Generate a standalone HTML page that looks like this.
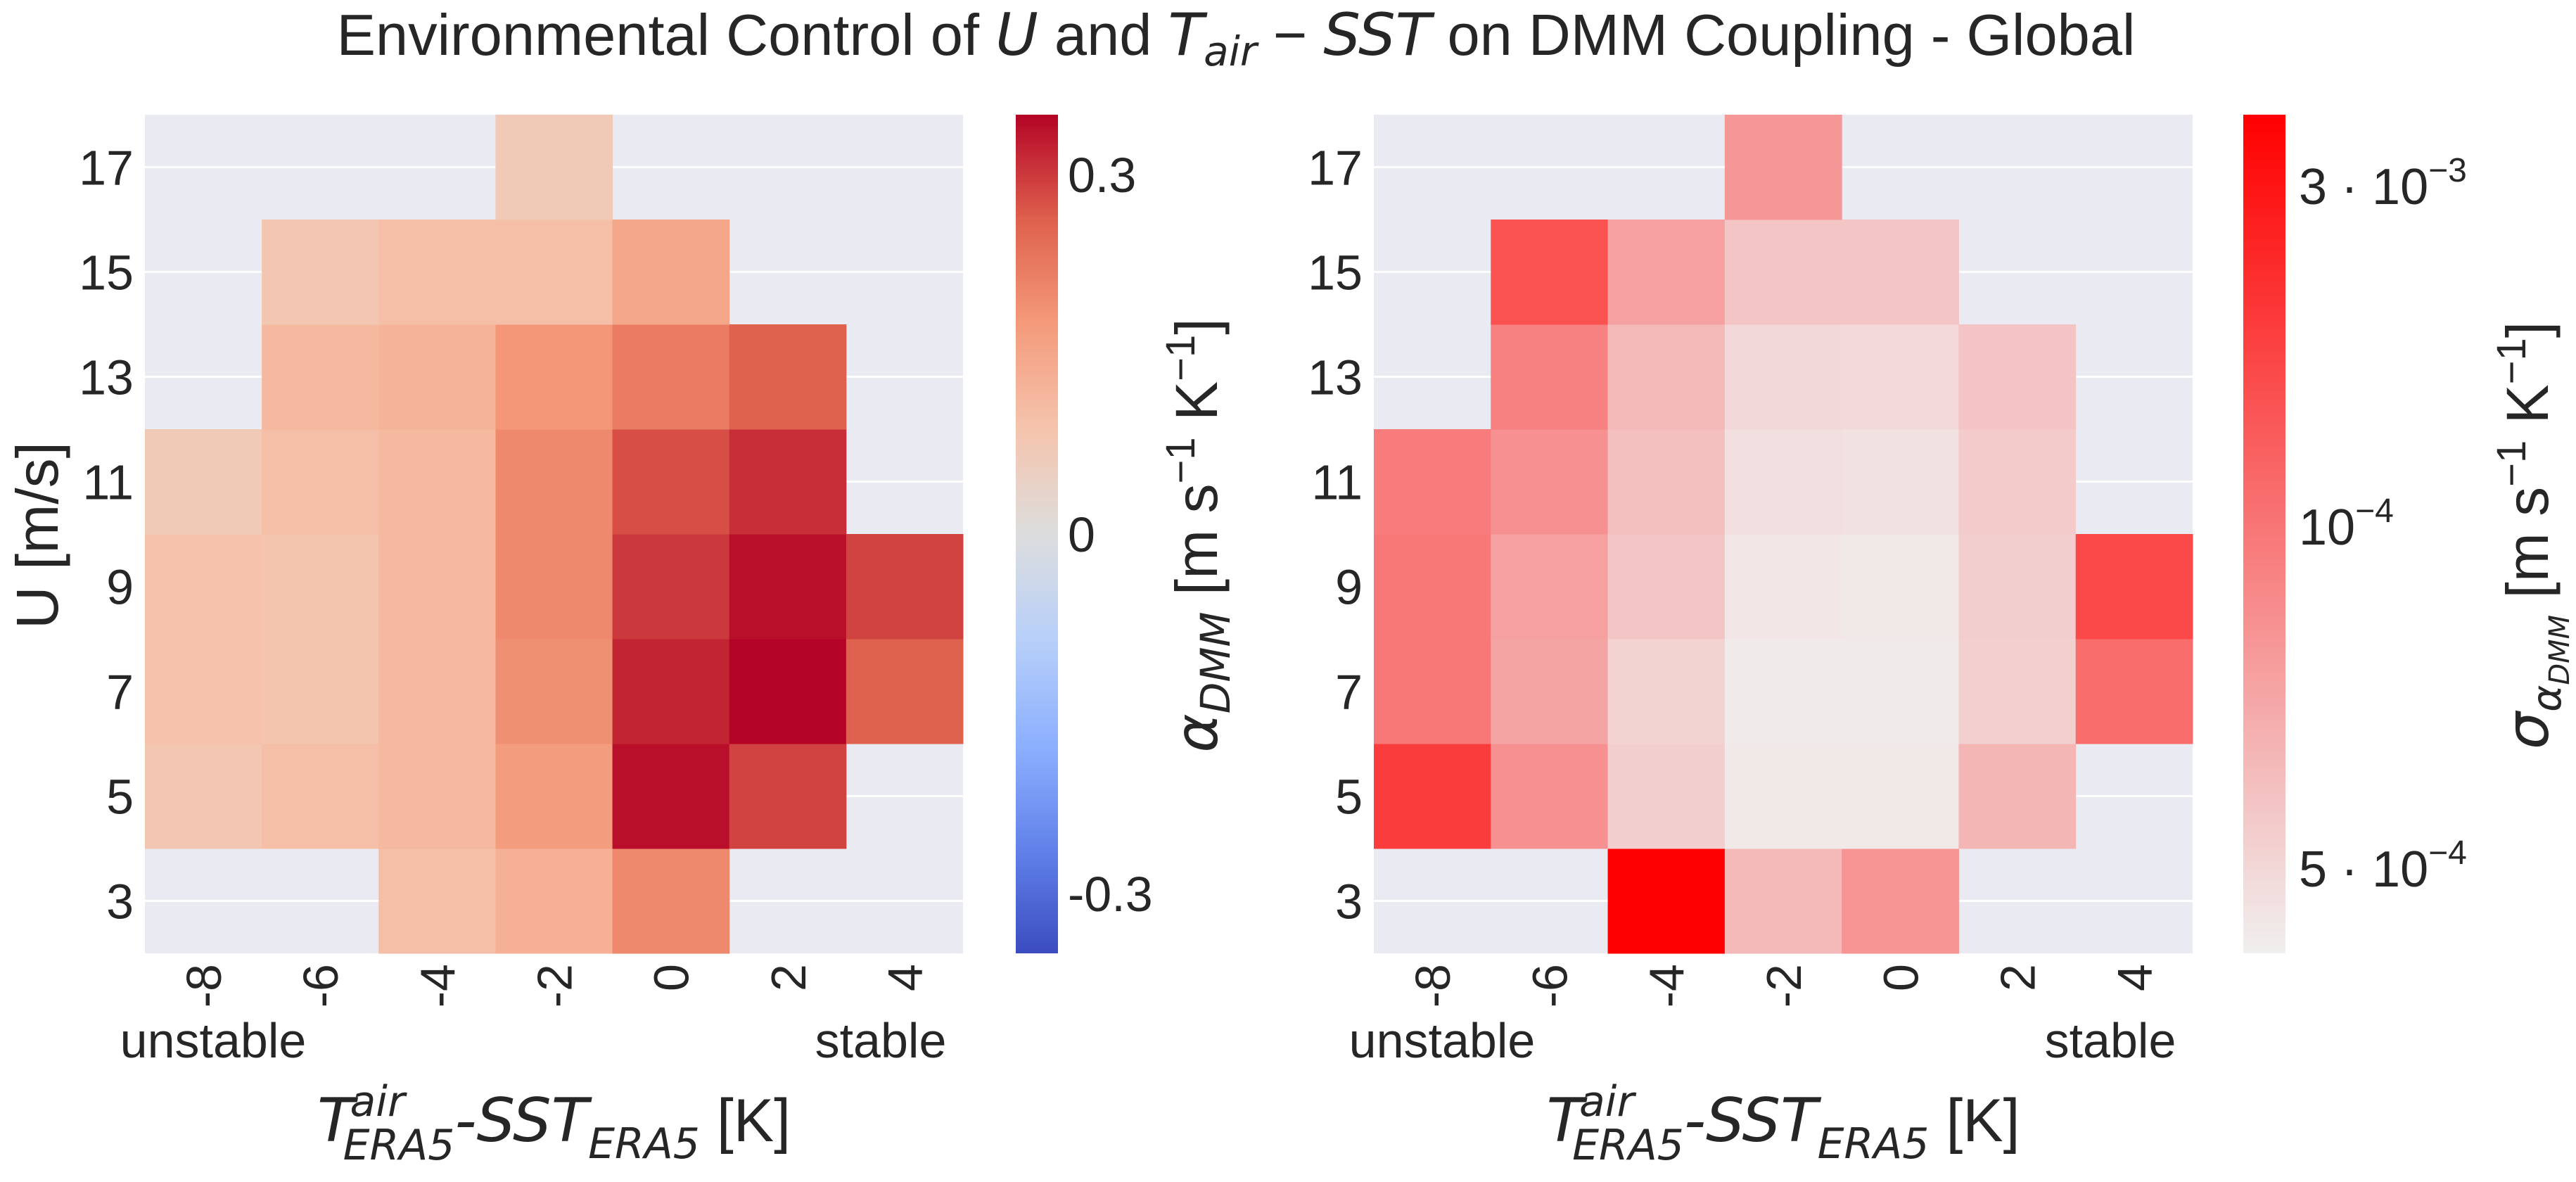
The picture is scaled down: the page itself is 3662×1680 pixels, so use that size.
<!DOCTYPE html>
<html><head><meta charset="utf-8"><style>
html,body{margin:0;padding:0;background:#fff;}
svg{display:block;}
text{fill:#262626;font-family:"Liberation Sans",sans-serif;}
.m{font-family:"DejaVu Sans",sans-serif;font-style:italic;}
</style></head><body>
<svg id="fig" width="3662" height="1680" viewBox="0 0 3662 1680" xmlns="http://www.w3.org/2000/svg">
<defs id="defs"></defs>
<text x="1757" y="78" font-size="83" text-anchor="middle">Environmental Control of <tspan class="m">U</tspan> and <tspan class="m">T</tspan><tspan class="m" font-size="58" dy="15">air</tspan><tspan dy="-15"> − </tspan><tspan class="m">SST</tspan> on DMM Coupling - Global</text>
<g id="left"></g>
<g id="right"></g>
</svg>
<script>
const xCats = [-8, -6, -4, -2, 0, 2, 4];
const yCats = [3, 5, 7, 9, 11, 13, 15, 17];
// alpha_DMM, rows by U (3..17), cols by Tair-SST (-8..4)
const alphaU3  = [null, null, 0.10, 0.13, 0.20, null, null];
const alphaU5  = [0.08, 0.10, 0.11, 0.17, 0.34, 0.29, null];
const alphaU7  = [0.09, 0.085, 0.11, 0.19, 0.32, 0.35, 0.26];
const alphaU9  = [0.09, 0.085, 0.11, 0.20, 0.30, 0.34, 0.29];
const alphaU11 = [0.07, 0.10, 0.11, 0.20, 0.28, 0.31, null];
const alphaU13 = [null, 0.11, 0.12, 0.18, 0.22, 0.26, null];
const alphaU15 = [null, 0.08, 0.10, 0.10, 0.15, null, null];
const alphaU17 = [null, null, null, 0.07, null, null, null];
// sigma of alpha_DMM (units 1e-4)
const sigmaU3  = [null, null, 36, 6.5, 9.2, null, null];
const sigmaU5  = [20.7, 9.6, 5.4, 4.25, 4.25, 6.8, null];
const sigmaU7  = [12.0, 8.0, 5.2, 4.16, 4.16, 5.3, 13.4];
const sigmaU9  = [12.0, 8.2, 5.9, 4.34, 4.25, 5.4, 18.6];
const sigmaU11 = [11.5, 9.6, 6.2, 4.63, 4.53, 5.55, null];
const sigmaU13 = [null, 11.0, 6.5, 4.94, 4.83, 6.0, null];
const sigmaU15 = [null, 17.1, 8.2, 5.9, 5.9, null, null];
const sigmaU17 = [null, null, null, 9.0, null, null, null];
const alphaTicks = [0.3, 0, -0.3];
const alphaTickLabels = ["0.3", "0", "-0.3"];
const alphaRows = [alphaU3, alphaU5, alphaU7, alphaU9, alphaU11, alphaU13, alphaU15, alphaU17];
const sigmaRows = [sigmaU3, sigmaU5, sigmaU7, sigmaU9, sigmaU11, sigmaU13, sigmaU15, sigmaU17];

const NS = "http://www.w3.org/2000/svg";
function mk(tag, attrs, parent) {
  const e = document.createElementNS(NS, tag);
  for (const k in attrs) e.setAttribute(k, attrs[k]);
  parent.appendChild(e);
  return e;
}
const cw = [[59,76,192],[98,130,234],[141,176,254],[184,208,249],[221,221,221],[245,196,173],[244,154,123],[222,96,77],[180,4,38]];
function coolwarm(t) {
  t = Math.max(0, Math.min(1, t)); const p = t * 8; const i = Math.min(7, Math.floor(p)); const f = p - i;
  const c = cw[i].map((v, k) => Math.round(v + (cw[i + 1][k] - v) * f));
  return `rgb(${c[0]},${c[1]},${c[2]})`;
}
function reds(t) {
  t = Math.max(0, Math.min(1, t));
  const a = [241,239,239], b = [255,0,0];
  const c = a.map((v, k) => Math.round(v + (b[k] - v) * t));
  return `rgb(${c[0]},${c[1]},${c[2]})`;
}
const AMAX = 0.35;
const SMIN = 3.99, SMAX = 36.1;
const alphaNorm = v => (v + AMAX) / (2 * AMAX);
const sigmaNorm = v => Math.log(v / SMIN) / Math.log(SMAX / SMIN);

const yTop = 163, yBot = 1355;
function panel(g, x0, x1, rows, colorFn, norm, name) {
  const cwid = (x1 - x0) / xCats.length, rh = (yBot - yTop) / yCats.length;
  const xS = i => x0 + i * cwid, yS = j => yBot - (j + 1) * rh;
  const bg = mk("rect", {x: x0, y: yTop, width: x1 - x0, height: yBot - yTop, fill: "#eaeaf2"}, g);
  
  
  yCats.forEach((u, j) => {
    const yc = yS(j) + rh / 2;
    const gl = mk("line", {x1: x0, x2: x1, y1: yc, y2: yc, stroke: "#fff", "stroke-width": 3}, g);
    
    
    const t = mk("text", {x: x0 - 16, y: yc + 25, "font-size": 70, "text-anchor": "end"}, g);
    t.textContent = u;
    
    
  });
  rows.forEach((row, j) => row.forEach((v, i) => {
    if (v === null) return;
    const r = mk("rect", {x: xS(i), y: yS(j), width: cwid + 0.5, height: rh + 0.5, fill: colorFn(norm(v))}, g);
    
    
  }));
  xCats.forEach((c, i) => {
    const xc = xS(i) + cwid / 2;
    const t = mk("text", {x: 0, y: 0, "font-size": 70, "text-anchor": "end", transform: `translate(${xc + 25},1370) rotate(-90)`}, g);
    t.textContent = c;
    
    
  });
  const un = mk("text", {x: x0 + 97, y: 1503, "font-size": 70, "text-anchor": "middle"}, g);
  un.textContent = "unstable";
  
  
  const st = mk("text", {x: x1 - 117, y: 1503, "font-size": 70, "text-anchor": "middle"}, g);
  st.textContent = "stable";
  
  
  const xl = mk("text", {x: (x0 + x1) / 2, y: 1622, "font-size": 86, "text-anchor": "middle"}, g);
  xl.innerHTML = '<tspan class="m">T</tspan><tspan class="m" font-size="60" dy="-36" dx="-6">air</tspan><tspan class="m" font-size="60" dx="-88" dy="62">ERA5</tspan><tspan class="m" dy="-26">-SST</tspan><tspan class="m" font-size="60" dy="24">ERA5</tspan><tspan dy="-24"> [K]</tspan>';
  
  
}
function colorbar(g, x0, x1, colorFn, id, name) {
  const defs = document.getElementById("defs");
  const lg = mk("linearGradient", {id: id, x1: 0, y1: 1, x2: 0, y2: 0}, defs);
  for (let k = 0; k <= 32; k++) mk("stop", {offset: k / 32, "stop-color": colorFn(k / 32)}, lg);
  const r = mk("rect", {x: x0, y: yTop, width: x1 - x0, height: yBot - yTop, fill: `url(#${id})`}, g);
  
  
}
const L = document.getElementById("left"), R = document.getElementById("right");
panel(L, 206, 1369, alphaRows, coolwarm, alphaNorm, "alpha");
panel(R, 1953, 3117, sigmaRows, reds, sigmaNorm, "sigma");
colorbar(L, 1444, 1504, coolwarm, "gcw", "alpha-colorbar");
colorbar(R, 3189, 3249, reds, "grd", "sigma-colorbar");
const aY = v => yBot - alphaNorm(v) * (yBot - yTop);
alphaTicks.forEach((v, k) => {
  const t = mk("text", {x: 1518, y: aY(v) + 25, "font-size": 70}, L);
  t.textContent = alphaTickLabels[k];
  
  
});
const sLabels = ['3 · 10<tspan font-size="48" dy="-32">−3</tspan>', '10<tspan font-size="48" dy="-32">−4</tspan>', '5 · 10<tspan font-size="48" dy="-32">−4</tspan>'];
const sYpos = [263, 747, 1233];
sLabels.forEach((lab, k) => {
  const t = mk("text", {x: 3268, y: sYpos[k] + 27, "font-size": 72, "font-family": "DejaVu Sans, sans-serif"}, R);
  t.innerHTML = lab;
  
  
});
const yl = mk("text", {x: 0, y: 0, "font-size": 84, "text-anchor": "middle", transform: "translate(82,761) rotate(-90)"}, L);
yl.textContent = "U [m/s]";


const c1 = mk("text", {x: 0, y: 0, "font-size": 84, "text-anchor": "middle", transform: "translate(1730,761) rotate(-90)"}, L);
c1.innerHTML = '<tspan class="m">α</tspan><tspan class="m" font-size="58" dy="18">DMM</tspan><tspan dy="-18"> [m s</tspan><tspan font-size="58" dy="-32">−1</tspan><tspan dy="32"> K</tspan><tspan font-size="58" dy="-32">−1</tspan><tspan dy="32">]</tspan>';


const c2 = mk("text", {x: 0, y: 0, "font-size": 84, "text-anchor": "middle", transform: "translate(3622,761) rotate(-90)"}, R);
c2.innerHTML = '<tspan class="m">σ</tspan><tspan class="m" font-size="58" dy="18">α</tspan><tspan class="m" font-size="40" dy="12">DMM</tspan><tspan dy="-30"> [m s</tspan><tspan font-size="58" dy="-32">−1</tspan><tspan dy="32"> K</tspan><tspan font-size="58" dy="-32">−1</tspan><tspan dy="32">]</tspan>';


</script>
</body></html>
